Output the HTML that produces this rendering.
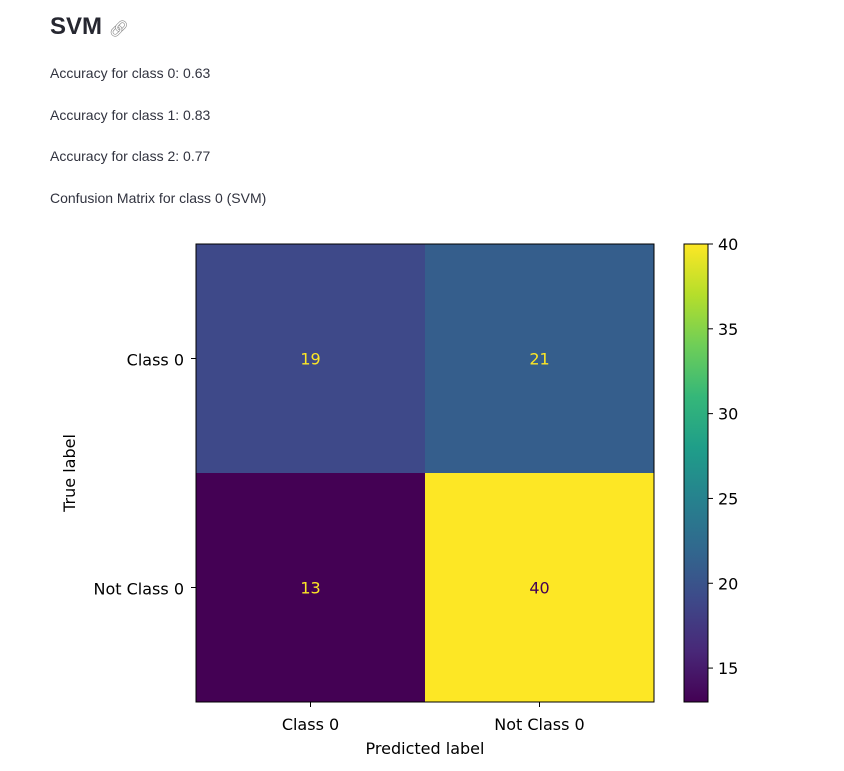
<!DOCTYPE html>
<html><head><meta charset="utf-8"><style>
body{margin:0;background:#fff;width:844px;height:771px;overflow:hidden;font-family:"Liberation Sans",sans-serif;color:#31333f}
h2{position:absolute;left:50px;top:13px;margin:0;font-size:24px;font-weight:bold;color:#262730}
.p{position:absolute;left:50px;font-size:14px;color:#31333f;margin:0}
svg{position:absolute;left:0;top:0}
svg text{font-family:"DejaVu Sans","Liberation Sans",sans-serif}
</style></head><body>
<h2>SVM <span style="font-size:16px;color:#888;font-weight:normal">&#128279;&#xFE0E;</span></h2>
<p class="p" style="top:65px">Accuracy for class 0: 0.63</p>
<p class="p" style="top:107px">Accuracy for class 1: 0.83</p>
<p class="p" style="top:148px">Accuracy for class 2: 0.77</p>
<p class="p" style="top:190px">Confusion Matrix for class 0 (SVM)</p>
<svg id="chart" width="844" height="771"></svg>
<script>
const categories = ["Class 0", "Not Class 0"];
const matrixRow0 = [19, 21];
const matrixRow1 = [13, 40];
const colorbarTicks = [15, 20, 25, 30, 35, 40];

const NS = "http://www.w3.org/2000/svg";
const svg = document.getElementById("chart");
const viridis = ["#440154","#482878","#3e4989","#31688e","#26828e","#1f9e89","#35b779","#6ece58","#b5de2b","#fde725"];
function hex(c){return [1,3,5].map(i=>parseInt(c.substr(i,2),16));}
function cmap(t){t=Math.max(0,Math.min(1,t));const f=t*(viridis.length-1);const i=Math.min(Math.floor(f),viridis.length-2);const r=f-i;const a=hex(viridis[i]),b=hex(viridis[i+1]);return "rgb("+a.map((v,k)=>Math.round(v+(b[k]-v)*r)).join(",")+")";}
function el(tag, attrs, text){const e=document.createElementNS(NS,tag);for(const k in attrs)e.setAttribute(k,attrs[k]);if(text!==undefined)e.textContent=text;svg.appendChild(e);return e;}
const matrix=[matrixRow0,matrixRow1];
const all=matrix.flat();
const vmin=Math.min(...all), vmax=Math.max(...all);
const X0=196, Y0=244, W=458, H=458, n=categories.length, cw=W/n, ch=H/n;
const xPos=j=>X0+cw*(j+0.5), yPos=i=>Y0+ch*(i+0.5);
matrix.forEach((row,i)=>row.forEach((v,j)=>{
  const t=(v-vmin)/(vmax-vmin);
  const r=el("rect",{x:X0+cw*j,y:Y0+ch*i,width:cw,height:ch,fill:cmap(t)});
  
  
  const tx=el("text",{x:xPos(j),y:yPos(i)+6,"text-anchor":"middle","font-size":"16",fill:t<0.5?"#fde725":"#440154"},v);
  
  
}));
el("rect",{x:X0,y:Y0,width:W,height:H,fill:"none",stroke:"#000","stroke-width":1});
categories.forEach((c,j)=>{
  el("line",{x1:xPos(j),x2:xPos(j),y1:Y0+H,y2:Y0+H+5,stroke:"#000"});
  const t=el("text",{x:xPos(j),y:Y0+H+28,"text-anchor":"middle","font-size":"16",fill:"#000"},c);
  
  
  el("line",{x1:X0-5,x2:X0,y1:yPos(j),y2:yPos(j),stroke:"#000"});
  const t2=el("text",{x:X0-12,y:yPos(j)+7,"text-anchor":"end","font-size":"16",fill:"#000"},c);
  
  
});
const xt=el("text",{x:X0+W/2,y:754,"text-anchor":"middle","font-size":"16",fill:"#000"},"Predicted label");


const yt=el("text",{x:0,y:0,"text-anchor":"middle","font-size":"16",fill:"#000",transform:"translate(75,"+(Y0+H/2)+") rotate(-90)"},"True label");


// colorbar
const CX=684, CW=24;
const defs=el("defs",{});
const g=document.createElementNS(NS,"linearGradient");
g.setAttribute("id","vg");g.setAttribute("x1","0");g.setAttribute("y1","1");g.setAttribute("x2","0");g.setAttribute("y2","0");
viridis.forEach((c,i)=>{const s=document.createElementNS(NS,"stop");s.setAttribute("offset",i/(viridis.length-1));s.setAttribute("stop-color",c);g.appendChild(s);});
defs.appendChild(g);
const cb=el("rect",{x:CX,y:Y0,width:CW,height:H,fill:"url(#vg)",stroke:"#000","stroke-width":1});


const cy=v=>Y0+H-(v-vmin)/(vmax-vmin)*H;
colorbarTicks.forEach(v=>{
  el("line",{x1:CX+CW,x2:CX+CW+5,y1:cy(v),y2:cy(v),stroke:"#000"});
  const t=el("text",{x:CX+CW+10,y:cy(v)+6,"font-size":"16",fill:"#000"},v);
  
  
});
</script>
</body></html>
